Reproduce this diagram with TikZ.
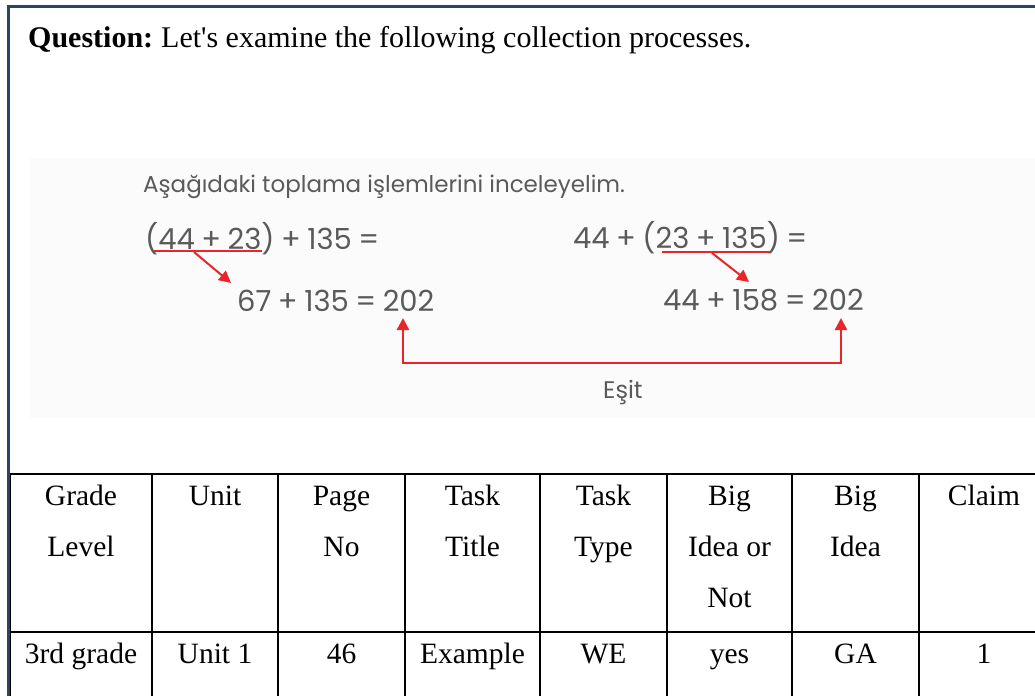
\documentclass[tikz,border=0pt]{standalone}
\usepackage{fontspec}
\setmainfont{Liberation Serif}[Ligatures=TeXOff]
\newfontfamily\hand{Poppins}
\usetikzlibrary{arrows.meta}
\definecolor{frame}{HTML}{2A4463}
\definecolor{redarr}{HTML}{E8262A}
\definecolor{handgray}{HTML}{5A5A5A}
\newcommand{\hsp}{\hspace{6.5pt}}
\begin{document}
\begin{tikzpicture}[x=1pt,y=-1pt,
  cell/.style={font=\fontsize{29.5}{35}\selectfont,inner sep=0pt,anchor=base},
  hw/.style={font=\hand\fontsize{29}{32}\selectfont,text=handgray,inner sep=0pt,anchor=base west},
  redline/.style={draw=redarr,line width=2pt},
  redarrow/.style={draw=redarr,line width=2pt,-{Triangle[length=12pt,width=12pt]}},
  tline/.style={draw=black,line width=1.3pt}]
\useasboundingbox (0,0) rectangle (1035,696);
\fill[white] (0,0) rectangle (1035,696);
% faint background of the scanned image
\fill[black!1.5] (30,158) rectangle (1035,418);
% outer frame
\draw[frame,line width=3pt] (8,696) -- (8,6) -- (1035,6);
% question
\node[font=\fontsize{30}{35}\selectfont,inner sep=0pt,anchor=base west] (q) at (28,47) {\textbf{Question:}\hspace{-2pt} Let's examine the following collection processes.};
% image content
\node[hw,font=\hand\fontsize{23}{28}\selectfont] (title) at (143,192) {Aşağıdaki toplama işlemlerini inceleyelim.};
\node[hw] (e1) at (145,249) {(44\hsp+\hsp23)\hsp+\hsp135\hsp=};
\node[hw] (e2) at (237,311) {67\hsp+\hsp135\hsp=\hsp202};
\node[hw] (e3) at (573,248) {44\hsp+\hsp(23\hsp+\hsp135)\hsp=};
\node[hw] (e4) at (663,310) {44\hsp+\hsp158\hsp=\hsp202};
\node[hw,font=\hand\fontsize{24}{28}\selectfont] (esit) at (603,398) {Eşit};
\coordinate (u1a) at (153,251);
\coordinate (u1b) at (262,251);
\coordinate (a1s) at (194,252);
\coordinate (a1e) at (231,283);
\coordinate (u2a) at (662,252);
\coordinate (u2b) at (770,252);
\coordinate (a2s) at (712,253);
\coordinate (a2e) at (749,282);
\coordinate (b1) at (403,318);
\coordinate (b2) at (841,318);
\coordinate (c1) at (403,363);
\coordinate (c2) at (841,363);
\draw[redline] (u1a) -- (u1b);
\draw[redarrow] (a1s) -- (a1e);
\draw[redline] (u2a) -- (u2b);
\draw[redarrow] (a2s) -- (a2e);
\draw[redarrow,line width=2.4pt,{Triangle[length=12pt,width=12pt]}-{Triangle[length=12pt,width=12pt]}] (b1) -- (c1) -- (c2) -- (b2);
% table
\draw[tline] (10,474) -- (1035,474);
\draw[tline] (10,632) -- (1035,632);
\foreach \x in {10.5,152,278,405,540,667,792,919} \draw[tline] (\x,474) -- (\x,696);
% header row
\node[cell] (h1a) at (81,505) {Grade};
\node[cell] (h1b) at (81,556) {Level};
\node[cell] (h2a) at (215,505) {Unit};
\node[cell] (h3a) at (341.5,505) {Page};
\node[cell] (h3b) at (341.5,556) {No};
\node[cell] (h4a) at (472.5,505) {Task};
\node[cell] (h4b) at (472.5,556) {Title};
\node[cell] (h5a) at (603.5,505) {Task};
\node[cell] (h5b) at (603.5,556) {Type};
\node[cell] (h6a) at (729.5,505) {Big};
\node[cell] (h6b) at (729.5,556) {Idea or};
\node[cell] (h6c) at (729.5,607) {Not};
\node[cell] (h7a) at (855.5,505) {Big};
\node[cell] (h7b) at (855.5,556) {Idea};
\node[cell] (h8a) at (984,505) {Claim};
% data row
\node[cell] (d1) at (81,663) {3rd grade};
\node[cell] (d2) at (215,663) {Unit 1};
\node[cell] (d3) at (341.5,663) {46};
\node[cell] (d4) at (472.5,663) {Example};
\node[cell] (d5) at (603.5,663) {WE};
\node[cell] (d6) at (729.5,663) {yes};
\node[cell] (d7) at (855.5,663) {GA};
\node[cell] (d8) at (984,663) {1};
\end{tikzpicture}
\end{document}
